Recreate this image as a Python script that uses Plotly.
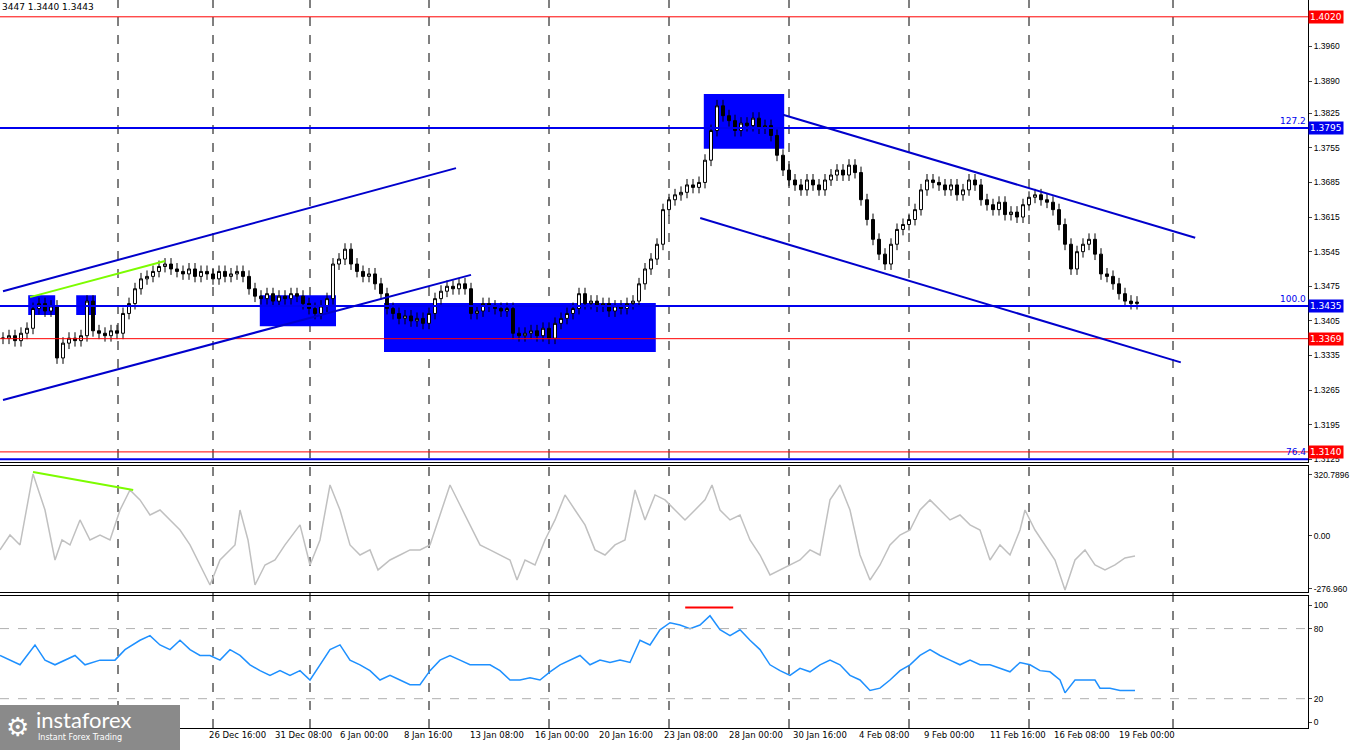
import plotly.graph_objects as go

closes = [1.3370,1.3375,1.3365,1.3380,1.3390,
1.3430,1.3440,1.3425,1.3435,
1.3330,
1.3360,1.3370,1.3365,1.3375,
1.3445,
1.3385,1.3380,1.3375,1.3385,1.3380,
1.3420,1.3440,1.3470,
1.3490,1.3495,1.3505,1.3515,1.3520,
1.3510,1.3505,1.3500,1.3510,1.3495,1.3505,1.3500,1.3490,1.3505,1.3495,1.3500,1.3505,1.3495,
1.3470,1.3455,1.3450,1.3460,1.3445,1.3455,1.3450,1.3460,1.3455,
1.3440,1.3430,1.3420,1.3435,1.3450,
1.3520,1.3530,1.3550,
1.3520,1.3505,1.3495,1.3500,1.3480,
1.3460,1.3430,1.3420,1.3410,1.3415,1.3405,1.3410,1.3400,1.3420,
1.3450,1.3465,1.3475,1.3470,1.3480,1.3470,
1.3420,1.3425,1.3440,1.3435,1.3430,1.3425,1.3430,
1.3380,1.3375,1.3380,1.3385,1.3375,1.3390,
1.3370,1.3400,1.3410,1.3420,1.3430,1.3460,
1.3440,1.3445,1.3435,1.3440,1.3425,1.3435,1.3430,1.3440,1.3445,
1.3480,1.3510,1.3530,
1.3560,1.3630,1.3650,
1.3660,1.3665,1.3680,1.3675,1.3685,
1.3730,1.3790,1.3840,
1.3820,1.3810,1.3790,1.3805,1.3800,1.3815,1.3795,1.3800,1.3780,
1.3740,1.3710,1.3690,
1.3680,1.3670,1.3690,1.3680,1.3670,1.3690,1.3700,1.3710,1.3700,1.3720,1.3705,
1.3650,1.3610,1.3570,1.3540,1.3520,1.3560,
1.3590,1.3600,1.3610,1.3630,
1.3670,1.3690,1.3685,1.3680,1.3670,1.3680,1.3660,
1.3670,1.3690,1.3680,
1.3650,1.3640,1.3630,1.3645,1.3620,1.3625,1.3615,
1.3640,1.3655,1.3660,1.3650,1.3645,1.3630,
1.3600,1.3560,1.3510,
1.3545,1.3560,1.3570,1.3540,
1.3500,1.3495,1.3480,1.3460,
1.3445,1.3440,1.3443]
wick = 0.0012

cci_px = [0,10,20,33,45,55,62,70,80,90,100,110,120,130,140,150,160,170,180,190,200,210,220,235,240,248,255,265,275,285,300,310,320,330,340,350,360,370,378,390,400,410,420,430,440,450,460,470,480,490,500,510,517,525,535,545,555,565,575,585,595,605,615,625,635,645,655,665,675,685,695,705,712,720,730,740,750,760,770,780,790,800,810,820,830,840,850,860,870,880,890,900,910,920,930,940,950,960,970,980,990,1000,1010,1020,1025,1035,1045,1055,1065,1075,1085,1095,1105,1115,1125,1135]
cci_val = [-73,5,-47,325,136,-126,-21,-47,84,-21,5,-21,136,241,189,110,136,84,31,-47,-152,-257,-126,-47,136,-21,-257,-152,-126,-47,58,-152,-21,267,136,-47,-100,-73,-178,-126,-100,-73,-73,-47,110,267,162,58,-47,-73,-100,-126,-231,-126,-152,-21,84,215,136,58,-73,-100,-47,-21,241,84,215,189,136,84,136,189,267,136,84,110,-21,-100,-204,-178,-152,-126,-73,-100,189,267,136,-100,-231,-152,-47,5,31,136,189,136,84,110,58,31,-126,-47,-100,31,136,31,-47,-126,-283,-126,-73,-152,-178,-152,-115,-105]

rsi_px = [0,10,20,35,45,55,65,75,85,100,115,125,140,150,160,170,180,190,200,210,220,230,240,250,260,270,280,290,300,310,320,330,340,350,360,370,380,390,400,410,420,430,440,450,460,470,480,490,500,510,520,530,540,550,560,570,580,590,600,610,620,630,640,650,660,670,680,690,700,710,720,730,740,750,760,770,780,790,800,810,820,830,840,850,860,870,880,890,900,910,920,930,940,950,960,970,980,990,1000,1010,1020,1030,1040,1050,1060,1065,1075,1085,1095,1100,1110,1120,1135]
rsi_val = [57,53,49,66,53,49,53,57,49,53,53,62,70,74,66,62,70,62,57,57,53,62,57,49,44,40,44,40,44,36,49,62,66,53,49,44,36,40,36,32,32,44,53,57,53,49,49,49,44,36,36,38,36,43,49,53,57,49,53,51,53,51,70,66,79,85,83,80,83,91,79,74,79,70,62,49,44,40,46,43,49,53,49,40,36,27,29,36,44,49,57,62,57,53,49,53,49,49,46,43,51,49,44,43,36,25,36,36,36,29,29,27,27]

price_ticks = [1.3960,1.3890,1.3825,1.3755,1.3685,1.3615,1.3545,1.3475,1.3405,1.3335,1.3265,1.3195,1.3125]
red_levels = [1.4020,1.3369,1.3140]
blue_levels = [1.3795,1.3435,1.3125]
fib_labels = {1.3795:"127.2",1.3435:"100.0",1.3125:"76.4"}
date_labels = ["26 Dec 16:00","31 Dec 08:00","6 Jan 00:00","8 Jan 16:00","13 Jan 08:00","16 Jan 00:00","20 Jan 16:00","23 Jan 08:00","28 Jan 00:00","30 Jan 16:00","4 Feb 08:00","9 Feb 00:00","11 Feb 16:00","16 Feb 08:00","19 Feb 00:00"]
date_px = [207,273,338,402,468,533,597,662,727,791,857,922,988,1052,1117]
grid_px = [118,213,310,429,549,669,789,909,1029,1173]
channels = [((0,1.3465),(75.5,1.3714)),((0,1.3245),(78,1.3498)),((130,1.3822),(198.7,1.3573)),((116.2,1.3613),(196.3,1.3321))]
boxes = [(4.2,8.7,1.3417,1.3457),(12.2,15.5,1.3417,1.3457),(42.8,55.5,1.3394,1.3457),(63.5,108.8,1.3342,1.3441),(116.8,130.2,1.3753,1.3864)]

W = 1308
def px2i(px): return px/6 - 0.5

n = len(closes)
opens = [closes[0]] + closes[:-1]
highs = [max(o, c) + wick for o, c in zip(opens, closes)]
lows = [min(o, c) - wick for o, c in zip(opens, closes)]
idx = list(range(n))

fig = go.Figure()
fig.add_trace(go.Candlestick(x=idx, open=opens, high=highs, low=lows, close=closes,
    increasing=dict(line=dict(color="black", width=1), fillcolor="white"),
    decreasing=dict(line=dict(color="black", width=1), fillcolor="black"),
    whiskerwidth=0, showlegend=False, xaxis="x", yaxis="y"))
fig.add_trace(go.Scatter(x=[px2i(p) for p in cci_px], y=cci_val, mode="lines",
    line=dict(color="#c0c0c0", width=1.5), showlegend=False, xaxis="x2", yaxis="y2"))
fig.add_trace(go.Scatter(x=[px2i(p) for p in rsi_px], y=rsi_val, mode="lines",
    line=dict(color="#1e90ff", width=1.5), showlegend=False, xaxis="x3", yaxis="y3"))

xr = [-0.5, W/6 - 0.5]
ax = dict(range=xr, showgrid=False, showticklabels=False, zeroline=False,
          showline=True, linecolor="black", mirror=True)
yax = dict(side="right", showgrid=False, zeroline=False, showline=True, linecolor="black",
           mirror=True, ticks="outside", ticklen=3, tickfont=dict(size=8.5, family="Liberation Sans"))
fig.update_layout(
    width=1350, height=750, margin=dict(l=0, r=42, t=0, b=22, autoexpand=False),
    paper_bgcolor="white", plot_bgcolor="white",
    font=dict(family="DejaVu Sans", size=9, color="black"),
    xaxis=dict(**ax, rangeslider=dict(visible=False), anchor="y"),
    xaxis2=dict(**ax, anchor="y2", matches="x"),
    xaxis3=dict(**ax, anchor="y3", matches="x"),
    yaxis=dict(**yax, domain=[0.365, 1], range=[1.3119, 1.4054], tickvals=price_ticks, tickformat=".4f"),
    yaxis2=dict(**yax, domain=[0.187, 0.360], range=[-293, 367],
                tickvals=[320.7896, 0, -276.96], ticktext=["320.7896", "0.00", "-276.960"]),
    yaxis3=dict(**yax, domain=[0, 0.181], range=[-5.1, 107.7], tickvals=[100, 80, 20, 0]),
)

shapes = []
for g in grid_px:
    shapes.append(dict(type="line", xref="paper", yref="paper", x0=g/W, x1=g/W, y0=0, y1=1,
                       line=dict(color="black", width=1, dash="dash"), layer="below"))
for lv in [80, 20]:
    shapes.append(dict(type="line", xref="x3", yref="y3", x0=xr[0], x1=xr[1], y0=lv, y1=lv,
                       line=dict(color="#b0b0b0", width=1, dash="dash")))
for lv in red_levels:
    shapes.append(dict(type="line", xref="x", yref="y", x0=xr[0], x1=xr[1], y0=lv, y1=lv,
                       line=dict(color="red", width=1)))
for lv in blue_levels:
    shapes.append(dict(type="line", xref="x", yref="y", x0=xr[0], x1=xr[1], y0=lv, y1=lv,
                       line=dict(color="#0000ee", width=2)))
for x0, x1, y0, y1 in boxes:
    shapes.append(dict(type="rect", xref="x", yref="y", x0=x0, x1=x1, y0=y0, y1=y1,
                       fillcolor="#0000ff", line=dict(width=0), layer="below"))
for (a, b) in channels:
    shapes.append(dict(type="line", xref="x", yref="y", x0=a[0], y0=a[1], x1=b[0], y1=b[1],
                       line=dict(color="#0000cc", width=2)))
shapes.append(dict(type="line", xref="x", yref="y", x0=4.5, y0=1.3453, x1=27, y1=1.3526,
                   line=dict(color="#7cfc00", width=2)))
shapes.append(dict(type="line", xref="x2", yref="y2", x0=5, y0=335, x1=21.7, y1=241,
                   line=dict(color="#7cfc00", width=2)))
shapes.append(dict(type="line", xref="x3", yref="y3", x0=113.7, y0=98, x1=121.7, y1=98,
                   line=dict(color="red", width=2)))
shapes.append(dict(type="rect", xref="paper", yref="paper", x0=0, x1=180/W, y0=-22/728, y1=(728-705)/728,
                   fillcolor="#8a8a8a", line=dict(width=0)))
fig.update_layout(shapes=shapes)

ann = []
for lv in red_levels:
    ann.append(dict(x=1, xref="paper", y=lv, yref="y", text=f"{lv:.4f}", showarrow=False,
                    xanchor="left", bgcolor="red", font=dict(color="white", size=9), borderpad=1))
for lv in blue_levels[:2]:
    ann.append(dict(x=1, xref="paper", y=lv, yref="y", text=f"{lv:.4f}", showarrow=False,
                    xanchor="left", bgcolor="#0000ee", font=dict(color="white", size=9), borderpad=1))
for lv, t in fib_labels.items():
    ann.append(dict(x=1, xref="paper", y=lv, yref="y", text=t, showarrow=False, xanchor="right",
                    yanchor="bottom", font=dict(color="#0000ee", size=9)))
for t, p in zip(date_labels, date_px):
    ann.append(dict(x=p/W, xref="paper", y=0, yref="paper", yanchor="top", xanchor="left", text=t,
                    showarrow=False, font=dict(size=8.5)))
ann.append(dict(x=0, xref="paper", y=1, yref="paper", xanchor="left", yanchor="top",
                text="3447 1.3440 1.3443", showarrow=False, font=dict(size=9)))
ann.append(dict(x=34/W, xref="paper", y=(728-719)/728, yref="paper", xanchor="left", yanchor="middle",
                text="instaforex", showarrow=False, font=dict(size=22, color="white", family="Lato")))
ann.append(dict(x=36/W, xref="paper", y=-9/728, yref="paper", xanchor="left", yanchor="middle",
                text="Instant Forex Trading", showarrow=False, font=dict(size=8, color="white")))
ann.append(dict(x=4/W, xref="paper", y=(728-727)/728, yref="paper", xanchor="left", yanchor="middle",
                text="⚙", showarrow=False, font=dict(size=26, color="white")))
fig.update_layout(annotations=ann)

fig.write_html("out.html", config={"displayModeBar": False},
               post_script="document.body.style.margin='0';document.body.style.overflow='hidden';")
